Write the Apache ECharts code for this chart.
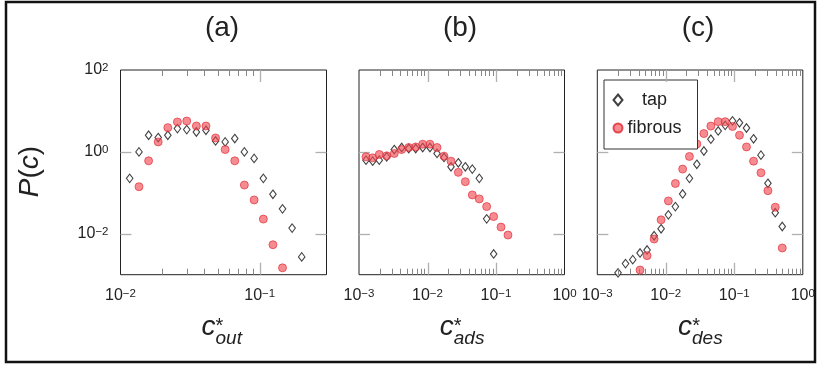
<!DOCTYPE html>
<html>
<head>
<meta charset="utf-8">
<script src="https://cdn.jsdelivr.net/npm/echarts@6/dist/echarts.min.js"></script>
<style>
  html, body { margin: 0; background: #fff; }
  #chart { width: 821px; height: 365px; }
</style>
</head>
<body>
<div id="chart"></div>
<script>
// panel titles and axis names
const panelTitles = ['(a)', '(b)', '(c)'];
const axisSubs = ['out', 'ads', 'des'];
const seriesNames = ['tap', 'fibrous'];

// tick exponents (log10)
const yLabelExp = [-2, 0, 2];
const yMajorExp = [-2, 0];
const aLabelExp = [-2, -1];
const aMajorExp = [-1];
const bcLabelExp = [-3, -2, -1, 0];
const bcMajorExp = [-2, -1];
const minorMant = [2, 3, 4, 5, 6, 7, 8, 9];

// (a) c*_out
const aTapX = [0.01164, 0.01358, 0.01592, 0.01866, 0.02188, 0.02564, 0.02992, 0.03508, 0.04111, 0.04819, 0.05649, 0.06622, 0.07762, 0.0912, 0.1062, 0.1245, 0.1459, 0.171, 0.2004];
const aTapY = [0.226, 1.0, 2.55, 2.24, 2.55, 3.7, 3.5, 3.06, 3.37, 1.85, 1.75, 2.12, 1.0, 0.692, 0.226, 0.092, 0.0406, 0.01374, 0.00272];
const aFibX = [0.01358, 0.01592, 0.01866, 0.02188, 0.02564, 0.02992, 0.03508, 0.04111, 0.04819, 0.05649, 0.06622, 0.07762, 0.0912, 0.1062, 0.1245, 0.1459];
const aFibY = [0.141, 0.605, 1.75, 3.91, 5.37, 5.68, 4.29, 4.29, 2.19, 1.14, 0.605, 0.155, 0.067, 0.0228, 0.0054, 0.00147];

// (b) c*_ads
const bTapX = [0.001265, 0.001585, 0.001977, 0.002535, 0.003273, 0.004198, 0.005321, 0.00673, 0.008511, 0.01086, 0.01377, 0.01742, 0.02203, 0.02818, 0.03565, 0.04508, 0.05702, 0.07311, 0.09247];
const bTapY = [0.628, 0.594, 0.628, 0.756, 1.14, 1.28, 1.21, 1.21, 1.28, 1.28, 0.914, 0.731, 0.432, 0.541, 0.432, 0.38, 0.226, 0.0231, 0.00321];
const bFibX = [0.001265, 0.001585, 0.001977, 0.002535, 0.003273, 0.004198, 0.005321, 0.00673, 0.008511, 0.01086, 0.01377, 0.01742, 0.02203, 0.02818, 0.03565, 0.04508, 0.05702, 0.07311, 0.09247, 0.1183, 0.1496];
const bFibY = [0.756, 0.715, 0.865, 0.8, 0.914, 1.14, 1.28, 1.32, 1.54, 1.54, 1.28, 0.787, 0.594, 0.316, 0.187, 0.0887, 0.0709, 0.0461, 0.0263, 0.01455, 0.00929];

// (c) c*_des
const cTapX = [0.002009, 0.002582, 0.003294, 0.004207, 0.005329, 0.006748, 0.008535, 0.01091, 0.0138, 0.01762, 0.02213, 0.02838, 0.03597, 0.0455, 0.05821, 0.07362, 0.09419, 0.1191, 0.1507, 0.191, 0.2449, 0.3097, 0.3963, 0.5012];
const cTapY = [0.00111, 0.00187, 0.00233, 0.0034, 0.00402, 0.00894, 0.01324, 0.02897, 0.0461, 0.0937, 0.226, 0.497, 1.05, 2.04, 3.24, 4.45, 5.73, 5.13, 3.83, 2.09, 0.832, 0.171, 0.0327, 0.01504];
const cFibX = [0.004207, 0.005329, 0.006748, 0.008535, 0.01091, 0.0138, 0.01762, 0.02213, 0.02838, 0.03597, 0.0455, 0.05821, 0.07362, 0.09419, 0.1191, 0.1507, 0.191, 0.2449, 0.3097, 0.3963, 0.5012];
const cFibY = [0.0013, 0.00292, 0.00743, 0.0219, 0.0634, 0.169, 0.38, 0.773, 1.56, 2.8, 4.26, 5.48, 5.48, 4.17, 2.55, 1.32, 0.594, 0.309, 0.113, 0.0446, 0.00449];

const FONT = 'Liberation Sans, Arial, Helvetica, sans-serif';
const MAJOR = '#b0b0b0';
const MINOR = '#878787';
const YMIN = -3, YMAX = 2;

const panels = [
  {left: 120.5, width: 206, xmin: -2, xmax: -0.52, labels: aLabelExp, major: aMajorExp, decades: [-2], yLabels: true,
   tap: [aTapX, aTapY], fib: [aFibX, aFibY]},
  {left: 359, width: 205.5, xmin: -3, xmax: 0, labels: bcLabelExp, major: bcMajorExp, decades: [-3, -2, -1], yLabels: false,
   tap: [bTapX, bTapY], fib: [bFibX, bFibY]},
  {left: 597.3, width: 205.5, xmin: -3, xmax: 0, labels: bcLabelExp, major: bcMajorExp, decades: [-3, -2, -1], yLabels: false,
   tap: [cTapX, cTapY], fib: [cFibX, cFibY]}
];
const GTOP = 70, GH = 204.7;

const rich = {
  b: {fontSize: 16, fontFamily: FONT, color: '#222', padding: [6, 0, 0, 0], lineHeight: 16, verticalAlign: 'bottom'},
  s: {fontSize: 11.5, fontFamily: FONT, color: '#222', lineHeight: 12, verticalAlign: 'top'}
};
const pow10 = v => '{b|10}{s|' + String(Math.round(v)).replace('-', '\u2212') + '}';

function toLog(xs, ys) {
  return xs.map((x, i) => [Math.log10(x), Math.log10(ys[i])]);
}

// x ticks of the log decades, drawn at bottom and top edge through the axis scale
function renderTick(params, api) {
  const v = api.value(0), isMajor = api.value(1) > 0.5;
  const bot = api.coord([v, YMIN]), top = api.coord([v, YMAX]);
  const x = Math.round(bot[0]) + 0.5;
  const len = isMajor ? 12 : 6;
  const style = {stroke: isMajor ? MAJOR : MINOR, lineWidth: isMajor ? 1.3 : 1, fill: null};
  return {type: 'group', children: [
    {type: 'line', shape: {x1: x, y1: bot[1], x2: x, y2: bot[1] - len}, style: style},
    {type: 'line', shape: {x1: x, y1: top[1], x2: x, y2: top[1] + len}, style: style}
  ]};
}

const grid = [], xAxis = [], yAxis = [], series = [];
panels.forEach((p, g) => {
  grid.push({left: p.left, top: GTOP, width: p.width, height: GH, show: true,
    borderColor: '#222', borderWidth: 1, backgroundColor: 'transparent', outerBoundsMode: 'none'});
  const minor = [];
  p.decades.forEach(d => minorMant.forEach(m => minor.push(d + Math.log10(m))));
  xAxis.push({gridIndex: g, type: 'value', min: p.xmin, max: p.xmax, position: 'bottom',
    axisLine: {show: false, onZero: false}, splitLine: {show: false}, axisTick: {show: false},
    axisLabel: {customValues: p.labels, formatter: pow10, rich: rich, fontSize: 16, color: '#222', margin: 13}});
  const ybase = {gridIndex: g, type: 'value', min: YMIN, max: YMAX,
    axisLine: {show: false, onZero: false}, splitLine: {show: false}};
  yAxis.push(Object.assign({}, ybase, {position: 'left',
    axisTick: {inside: true, length: 11, customValues: yMajorExp, lineStyle: {color: MAJOR, width: 1.3}},
    axisLabel: p.yLabels ? {customValues: yLabelExp, formatter: pow10, rich: rich, fontSize: 16, color: '#222', margin: 12} : {show: false}}));
  yAxis.push(Object.assign({}, ybase, {position: 'right',
    axisTick: {inside: true, length: 11, customValues: yMajorExp, lineStyle: {color: MAJOR, width: 1.3}},
    axisLabel: {show: false}}));

  series.push({
    name: seriesNames[0], type: 'scatter', xAxisIndex: g, yAxisIndex: g * 2, clip: false,
    symbol: 'diamond', symbolSize: [6.5, 8.5],
    itemStyle: {color: '#fff', borderColor: '#111', borderWidth: 1.1},
    data: toLog(p.tap[0], p.tap[1])
  });
  series.push({
    name: seriesNames[1], type: 'scatter', xAxisIndex: g, yAxisIndex: g * 2, clip: false,
    symbol: 'circle', symbolSize: 8,
    itemStyle: {color: 'rgba(240,70,80,0.78)', borderColor: '#e0252f', borderWidth: 0.8},
    data: toLog(p.fib[0], p.fib[1])
  });
  series.push({
    name: 'ticks' + g, type: 'custom', xAxisIndex: g, yAxisIndex: g * 2,
    silent: true, clip: false, zlevel: 1, z: 10,
    renderItem: renderTick,
    data: p.major.map(v => [v, 1]).concat(minor.map(v => [v, 0]))
  });
});

// titles and axis names as text
const graphic = [{
  type: 'rect', shape: {x: 6, y: 2, width: 809, height: 360},
  style: {fill: 'transparent', stroke: '#111', lineWidth: 2.5}, silent: true
}];
const titleX = [222, 460, 698];
panels.forEach((p, g) => {
  graphic.push({type: 'text', x: titleX[g], y: 28.5,
    style: {text: panelTitles[g], font: '28px ' + FONT, fill: '#222', align: 'center', verticalAlign: 'middle'}});
  const cx = p.left + p.width / 2;
  graphic.push({type: 'text', x: cx - 22, y: 327,
    style: {text: 'c', font: 'italic 28px ' + FONT, fill: '#222', align: 'left', verticalAlign: 'middle'}});
  graphic.push({type: 'text', x: cx - 4, y: 326,
    style: {text: '*', font: '20px ' + FONT, fill: '#222', align: 'center', verticalAlign: 'middle'}});
  graphic.push({type: 'text', x: cx - 8, y: 338.5,
    style: {text: axisSubs[g], font: 'italic 19px ' + FONT, fill: '#222', align: 'left', verticalAlign: 'middle'}});
});
graphic.push({type: 'text', x: 30, y: 171.5, rotation: Math.PI / 2,
  style: {text: '{i|P}{n|(}{i|c}{n|)}', align: 'center', verticalAlign: 'middle',
    rich: {i: {font: 'italic 28px ' + FONT, fill: '#222'}, n: {font: '28px ' + FONT, fill: '#222'}}}});

const chart = echarts.init(document.getElementById('chart'), null, {renderer: 'canvas'});
chart.setOption({
  animation: false,
  backgroundColor: '#fff',
  textStyle: {fontFamily: FONT},
  legend: {
    data: seriesNames, orient: 'vertical', left: 604, top: 80,
    padding: [11, 16, 12, 8.5], itemGap: 10, itemWidth: 9, itemHeight: 11,
    borderColor: '#333', borderWidth: 1, backgroundColor: '#fff',
    formatter: name => '{t|' + name + '}',
    textStyle: {fontSize: 18, color: '#222', fontFamily: FONT,
      rich: {t: {width: 54, align: 'center', fontSize: 18, fontFamily: FONT, color: '#222'}}}
  },
  grid: grid,
  xAxis: xAxis,
  yAxis: yAxis,
  series: series,
  graphic: graphic
});
</script>
</body>
</html>
